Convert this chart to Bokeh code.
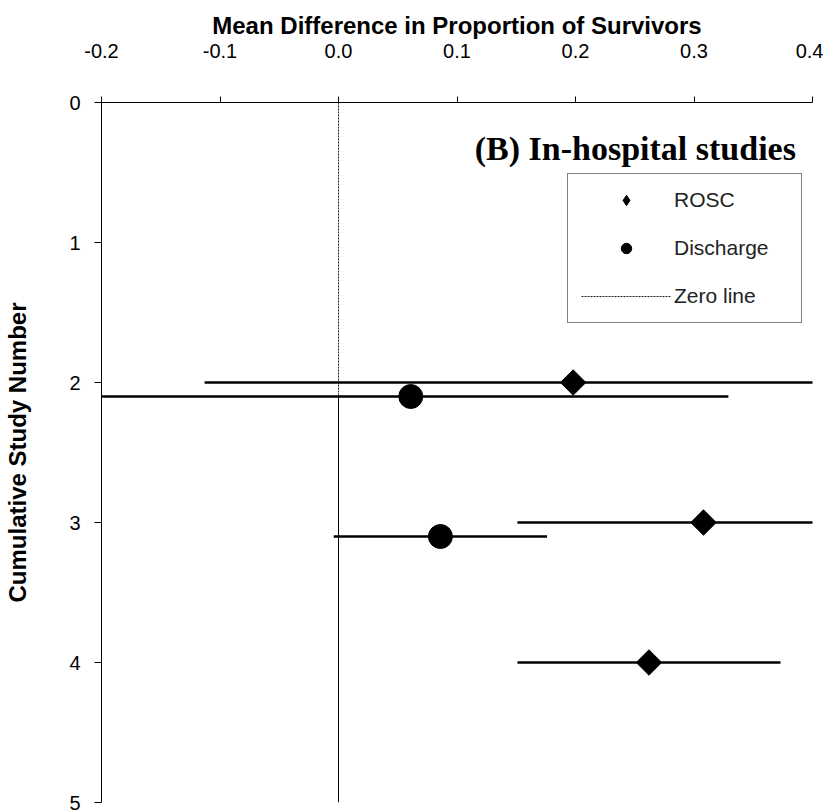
import math
from bokeh.plotting import figure
from bokeh.models import (Range1d, FixedTicker, NumeralTickFormatter, Legend,
                          LegendItem, Label)
from bokeh.embed import file_html
from bokeh.resources import INLINE

# ---------------- data ----------------
x_ticks = [-0.2, -0.1, 0.0, 0.1, 0.2, 0.3, 0.4]
y_ticks = [0, 1, 2, 3, 4, 5]

rosc_study = [2, 3, 4]
rosc_md = [0.198, 0.308, 0.262]
rosc_lo = [-0.113, 0.151, 0.151]
rosc_hi = [0.509, 0.465, 0.373]

dis_study = [2.1, 3.1]
dis_md = [0.061, 0.086]
dis_lo = [-0.207, -0.004]
dis_hi = [0.329, 0.176]

zero_x = [0.0, 0.0]
zero_dash_y = [0.0, 2.1]
zero_solid_y = [2.1, 5.0]

FONT = "Liberation Sans"

p = figure(width=823, height=812, output_backend="svg", toolbar_location=None,
           x_range=Range1d(-0.2, 0.4), y_range=Range1d(5, 0),
           x_axis_location="above",
           min_border_left=101, min_border_right=11, min_border_top=102,
           min_border_bottom=10)
p.outline_line_color = None
p.grid.visible = False
p.background_fill_color = "white"

xa = p.xaxis[0]
xa.ticker = FixedTicker(ticks=x_ticks)
xa.formatter = NumeralTickFormatter(format="0.0")
xa.axis_label = "Mean Difference in Proportion of Survivors"
xa.axis_label_text_font = FONT
xa.axis_label_text_font_style = "bold"
xa.axis_label_text_font_size = "24px"
xa.axis_label_text_color = "black"
xa.axis_label_standoff = 2
xa.major_label_text_font = FONT
xa.major_label_text_font_size = "20px"
xa.major_label_text_color = "black"
xa.major_label_standoff = 39
xa.major_tick_out = 6
xa.major_tick_in = 0
xa.minor_tick_out = 0
xa.minor_tick_in = 0
xa.axis_line_color = "black"
xa.major_tick_line_color = "black"

ya = p.yaxis[0]
ya.ticker = FixedTicker(ticks=y_ticks)
ya.axis_label = "Cumulative Study Number"
ya.axis_label_text_font = FONT
ya.axis_label_text_font_style = "bold"
ya.axis_label_text_font_size = "24px"
ya.axis_label_text_color = "black"
ya.axis_label_standoff = 35
ya.major_label_text_font = FONT
ya.major_label_text_font_size = "20px"
ya.major_label_text_color = "black"
ya.major_label_standoff = 14
ya.major_tick_out = 7
ya.major_tick_in = 0
ya.minor_tick_out = 0
ya.minor_tick_in = 0
ya.axis_line_color = "black"
ya.major_tick_line_color = "black"

# zero line
zr = p.line(zero_x, zero_dash_y, line_color="#222222", line_width=1, line_dash="2 1")
p.line(zero_x, zero_solid_y, line_color="black", line_width=1)

# error bars
p.segment(x0=rosc_lo, x1=rosc_hi, y0=rosc_study, y1=rosc_study,
          line_color="black", line_width=2.5)
p.segment(x0=dis_lo, x1=dis_hi, y0=dis_study, y1=dis_study,
          line_color="black", line_width=2.5)

# markers (the diamond glyph lies hidden under the rotated square; it gives the legend its shape)
rl = p.scatter(rosc_md, rosc_study, marker="diamond", size=18,
               fill_color="black", line_color="black")
p.scatter(rosc_md, rosc_study, marker="square", angle=math.pi / 4, size=18,
          fill_color="black", line_color="black")
dr = p.scatter(dis_md, dis_study, marker="circle", size=24,
               fill_color="black", line_color="black")

legend = Legend(items=[LegendItem(label="ROSC", renderers=[rl]),
                       LegendItem(label="Discharge", renderers=[dr]),
                       LegendItem(label="Zero line", renderers=[zr])],
                location=(466, 479), orientation="vertical",
                padding=13, spacing=22, margin=0,
                glyph_width=90, glyph_height=26, label_standoff=3,
                label_width=114, label_height=26,
                label_text_font=FONT, label_text_font_size="21px",
                label_text_color="#222222",
                border_line_color="black", border_line_width=1,
                background_fill_color="white", background_fill_alpha=1)
p.add_layout(legend, "center")

title = Label(x=0.386, y=0.328, text="(B) In-hospital studies",
              text_font="Liberation Serif", text_font_style="bold",
              text_font_size="34px", text_align="right", text_baseline="alphabetic",
              text_color="black")
p.add_layout(title)

open("out.html", "w").write(file_html(p, INLINE))
